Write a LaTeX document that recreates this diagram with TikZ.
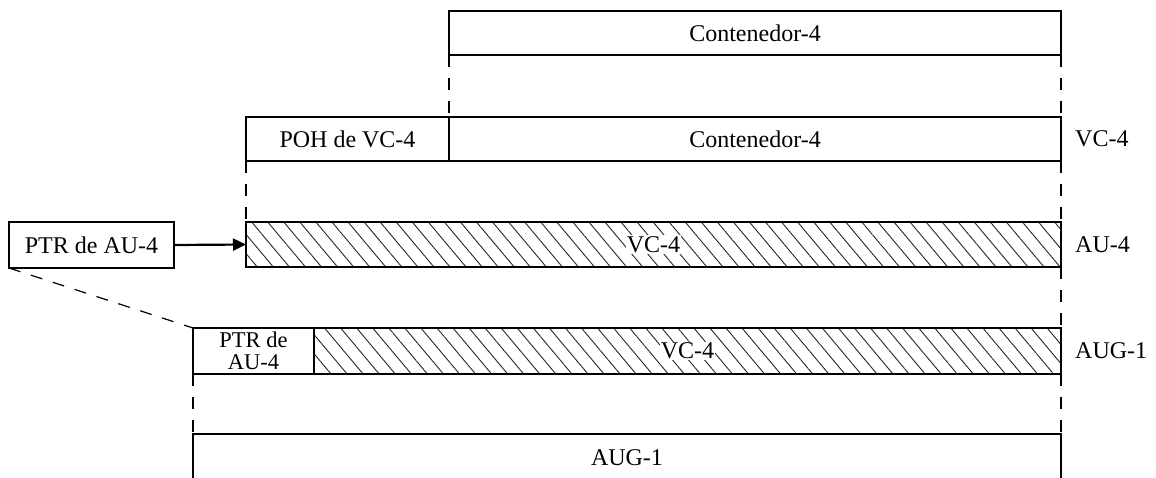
\documentclass[tikz,border=0pt]{standalone}
\usepackage{fontspec}
\setmainfont{Liberation Serif}
\usetikzlibrary{patterns.meta,arrows.meta}
\tikzset{
  lbl/.style={font=\fontsize{24}{26}\selectfont, inner sep=0pt},
  box/.style={draw, line width=1.2pt, inner sep=0pt, outer sep=0pt, font=\fontsize{24}{26}\selectfont},
  hatch/.style={box, pattern={Lines[angle=-50, distance=12.3pt, line width=0.9pt]}, pattern color=black!85},
  dsh/.style={line width=1.2pt, dash pattern=on 12pt off 11pt},
  ptrarrow/.style={line width=2.2pt, -{Triangle[length=13pt,width=12pt]}},
  wlabel/.style={fill=white, inner sep=1pt, font=\fontsize{24}{26}\selectfont},
}
\begin{document}
\begin{tikzpicture}[x=1pt,y=-1pt]
\useasboundingbox (0,0) rectangle (1156,477);
% top container
\node[box, minimum width=612pt, minimum height=44pt] (top) at (755,33) {Contenedor-4};
% VC-4 row
\node[box, minimum width=203pt, minimum height=44pt] (poh) at (347.5,139) {POH de VC-4};
\node[box, minimum width=612pt, minimum height=44pt] (c4) at (755,139) {Contenedor-4};
\node[lbl, anchor=west] (lvc) at (1075,139) {VC-4};
% AU-4 row
\node[box, minimum width=165pt, minimum height=46pt] (ptr) at (91.5,245) {PTR de AU-4};
\node[hatch, minimum width=815pt, minimum height=45pt] (au4) at (653.5,244.5) {};
\node[wlabel] (au4t) at (au4.center) {VC-4};
\node[lbl, anchor=west] (lau) at (1075,245) {AU-4};
% AUG-1 row
\node[box, minimum width=121pt, minimum height=46pt, align=center, font=\fontsize{22.5}{21.5}\selectfont] (augptr) at (253.5,351) {PTR de\\AU-4};
\node[hatch, minimum width=747pt, minimum height=46pt] (augvc) at (687.5,351) {};
\node[wlabel] (augt) at (augvc.center) {VC-4};
\node[lbl, anchor=west] (laug) at (1075,351) {AUG-1};
% bottom AUG-1
\node[inner sep=0pt, outer sep=0pt, minimum width=868pt, minimum height=50pt] (aug1) at (627,459) {};
\node[lbl] (aug1t) at (627,458) {AUG-1};
\draw[line width=1.2pt] (aug1.south west) -- (aug1.north west) -- (aug1.north east) -- (aug1.south east);
% dashed connectors
\draw[dsh] (top.south west) -- (c4.north west);
\draw[dsh] (top.south east) -- (c4.north east);
\draw[dsh] (poh.south west) -- (au4.north west);
\draw[dsh] (c4.south east) -- (au4.north east);
\draw[dsh] (au4.south east) -- (augvc.north east);
\draw[dsh] (ptr.south west) -- (augptr.north west);
\draw[dsh] (augptr.south west) -- (aug1.north west);
\draw[dsh] (augvc.south east) -- (aug1.north east);
% arrow
\draw[ptrarrow] (ptr.east) -- (au4.west);
\end{tikzpicture}
\end{document}
